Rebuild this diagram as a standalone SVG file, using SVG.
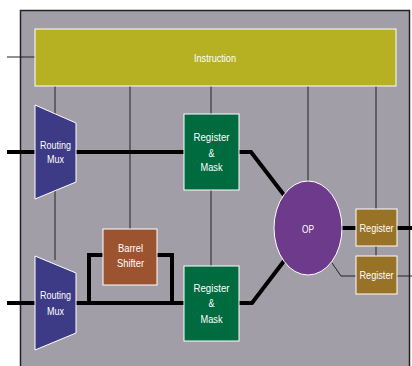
<svg xmlns="http://www.w3.org/2000/svg" width="412" height="366" viewBox="0 0 412 366">
<style>
.t{font-family:"Liberation Sans",Arial,sans-serif;font-size:11px;fill:#ffffff;text-anchor:middle}
.thin{stroke:#222;stroke-width:1;fill:none}
.thick{stroke:#000;stroke-width:4;fill:none}
.box{stroke:#ffffff;stroke-width:1}
</style>
<rect x="0" y="0" width="412" height="366" fill="#ffffff"/>
<rect x="20.5" y="10.5" width="389" height="360" fill="#a19ea8" stroke="#222" stroke-width="1.5"/>
<g id="connectors">
<path class="thin" d="M7,57H35"/>
<path class="thin" d="M55,86V260"/>
<path class="thin" d="M130,86V229"/>
<path class="thin" d="M211,86V114M211,190V266"/>
<path class="thin" d="M308,86V181"/>
<path class="thin" d="M376,86V209M376,246V256"/>
<path class="thick" d="M7,152H35M76,152H184"/>
<path class="thick" d="M7,303H35M76,303H184"/>
<path class="thick" d="M89,303V255H103M157,255H172V303"/>
<path class="thick" d="M239,152H251L284,195"/>
<path class="thick" d="M239,303H252L284,261"/>
<path class="thick" d="M341,228H356M397,228H412"/>
<path class="thin" d="M332,263L341,276H356M397,276H412"/>
</g>
<g id="instruction">
<rect class="box" x="35" y="29" width="361" height="57" fill="#b5b123"/>
<text class="t" x="215" y="62" textLength="42" lengthAdjust="spacingAndGlyphs">Instruction</text>
</g>
<g id="mux1">
<polygon class="box" points="35,105 76,123 76,182 35,199" fill="#3d3a86"/>
<text class="t" x="55.5" y="149" textLength="31" lengthAdjust="spacingAndGlyphs">Routing</text>
<text class="t" x="55.5" y="163" textLength="17" lengthAdjust="spacingAndGlyphs">Mux</text>
</g>
<g id="mux2">
<polygon class="box" points="35,256 76,273 76,333 35,350" fill="#3d3a86"/>
<text class="t" x="55.5" y="299" textLength="31" lengthAdjust="spacingAndGlyphs">Routing</text>
<text class="t" x="55.5" y="315" textLength="17" lengthAdjust="spacingAndGlyphs">Mux</text>
</g>
<g id="regmask1">
<rect class="box" x="184" y="114" width="55" height="76" fill="#006b3f"/>
<text class="t" x="211.5" y="141" textLength="36" lengthAdjust="spacingAndGlyphs">Register</text>
<text class="t" x="211.5" y="157" textLength="6" lengthAdjust="spacingAndGlyphs">&amp;</text>
<text class="t" x="211.5" y="171" textLength="22" lengthAdjust="spacingAndGlyphs">Mask</text>
</g>
<g id="regmask2">
<rect class="box" x="184" y="266" width="55" height="75" fill="#006b3f"/>
<text class="t" x="211.5" y="292" textLength="36" lengthAdjust="spacingAndGlyphs">Register</text>
<text class="t" x="211.5" y="307" textLength="6" lengthAdjust="spacingAndGlyphs">&amp;</text>
<text class="t" x="211.5" y="323" textLength="22" lengthAdjust="spacingAndGlyphs">Mask</text>
</g>
<g id="barrel">
<rect class="box" x="103" y="229" width="54" height="56" fill="#9c5430"/>
<text class="t" x="130.5" y="252" textLength="25" lengthAdjust="spacingAndGlyphs">Barrel</text>
<text class="t" x="130.5" y="267" textLength="27" lengthAdjust="spacingAndGlyphs">Shifter</text>
</g>
<g id="op">
<ellipse class="box" cx="308" cy="228" rx="34" ry="47" fill="#6e3a8c"/>
<text class="t" x="308" y="233" textLength="12" lengthAdjust="spacingAndGlyphs">OP</text>
</g>
<g id="register1">
<rect class="box" x="356" y="209" width="41" height="37" fill="#987227"/>
<text class="t" x="376.5" y="232" textLength="34" lengthAdjust="spacingAndGlyphs">Register</text>
</g>
<g id="register2">
<rect class="box" x="356" y="256" width="41" height="38" fill="#987227"/>
<text class="t" x="376.5" y="279" textLength="34" lengthAdjust="spacingAndGlyphs">Register</text>
</g>
</svg>
